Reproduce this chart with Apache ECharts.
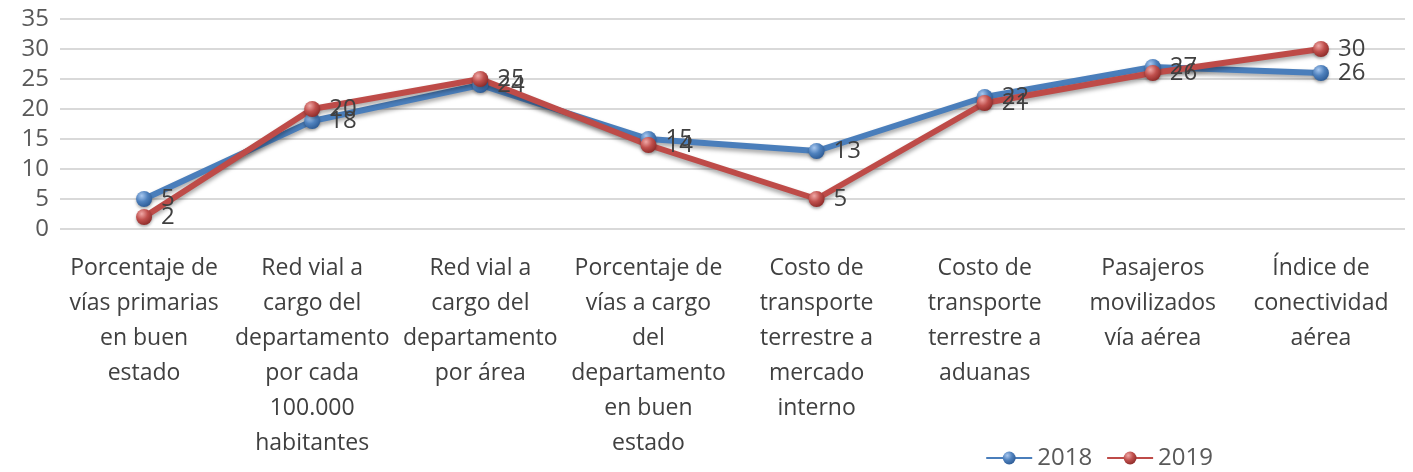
<!DOCTYPE html>
<html>
<head>
<meta charset="utf-8">
<script src="https://cdn.jsdelivr.net/npm/echarts@6/dist/echarts.min.js"></script>
<style>
html, body { margin: 0; padding: 0; background: #fff; }
#chart { width: 1413px; height: 472px; }
</style>
</head>
<body>
<div id="chart"></div>
<script>
var categories = [
    "Porcentaje de\nvías primarias\nen buen\nestado",
    "Red vial a\ncargo del\ndepartamento\npor cada\n100.000\nhabitantes",
    "Red vial a\ncargo del\ndepartamento\npor área",
    "Porcentaje de\nvías a cargo\ndel\ndepartamento\nen buen\nestado",
    "Costo de\ntransporte\nterrestre a\nmercado\ninterno",
    "Costo de\ntransporte\nterrestre a\naduanas",
    "Pasajeros\nmovilizados\nvía aérea",
    "Índice de\nconectividad\naérea"
];
var values2018 = [5, 18, 24, 15, 13, 22, 27, 26];
var values2019 = [2, 20, 25, 14, 5, 21, 26, 30];
var seriesNames = ["2018", "2019"];

function ball(light, base, dark) {
    return {
        type: 'radial', x: 0.35, y: 0.3, r: 0.75,
        colorStops: [
            { offset: 0, color: light },
            { offset: 0.5, color: base },
            { offset: 1, color: dark }
        ]
    };
}

function makeSeries(name, data, lineColor, light, base, dark) {
    return {
        name: name,
        type: 'line',
        data: data,
        symbol: 'circle',
        symbolSize: 16,
        lineStyle: {
            color: lineColor, width: 6,
            shadowColor: 'rgba(0,0,0,0.35)', shadowBlur: 4, shadowOffsetY: 3
        },
        itemStyle: {
            color: ball(light, base, dark),
            borderWidth: 0,
            shadowColor: 'rgba(0,0,0,0.3)', shadowBlur: 3, shadowOffsetY: 2
        },
        label: {
            show: true, position: 'right', distance: 9,
            color: '#404040', fontSize: 24, fontFamily: 'Open Sans'
        },
        emphasis: { disabled: true },
        animation: false
    };
}

var chart = echarts.init(document.getElementById('chart'));
chart.setOption({
    backgroundColor: '#fff',
    grid: { left: 60, right: 8, top: 19, bottom: 243, containLabel: false },
    legend: {
        data: seriesNames,
        right: 195, bottom: -3,
        itemWidth: 46, itemHeight: 16, itemGap: 14,
        textStyle: { color: '#595959', fontSize: 24, fontFamily: 'Open Sans' }
    },
    xAxis: {
        type: 'category',
        data: categories,
        boundaryGap: true,
        axisLine: { show: false },
        axisTick: { show: false },
        axisLabel: {
            interval: 0, margin: 22,
            color: '#404040', fontSize: 23, lineHeight: 35,
            fontFamily: 'Open Sans'
        }
    },
    yAxis: {
        type: 'value',
        min: 0, max: 35, interval: 5,
        axisLine: { show: false },
        axisTick: { show: false },
        axisLabel: { color: '#595959', fontSize: 24, margin: 11, fontFamily: 'Open Sans' },
        splitLine: { lineStyle: { color: '#d9d9d9', width: 2 } }
    },
    series: [
        makeSeries(seriesNames[0], values2018, '#4a7ebb', '#a8c8f0', '#4f81bd', '#2c5a94'),
        makeSeries(seriesNames[1], values2019, '#be4b48', '#f0a8a6', '#c0504d', '#8c2a28')
    ]
});
</script>
</body>
</html>
